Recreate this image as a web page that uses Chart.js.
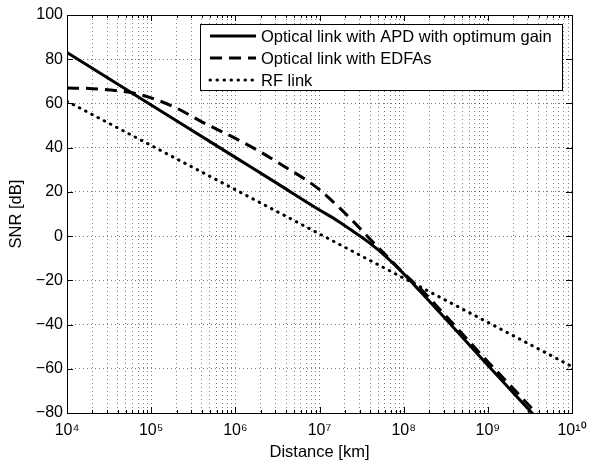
<!DOCTYPE html>
<html>
<head>
<meta charset="utf-8">
<title>SNR vs distance</title>
<script src="https://cdn.jsdelivr.net/npm/chart.js@4.4.0/dist/chart.umd.min.js"></script>
<style>
html, body { margin: 0; padding: 0; background: #fff; }
canvas { display: block; }
</style>
</head>
<body>
<canvas id="chart1" width="589" height="464"></canvas>
<script>
// values (distance in km, SNR in dB)
var seriesNames = ['Optical link with APD with optimum gain', 'Optical link with EDFAs', 'RF link'];

var apdDist = [1e4, 1e5, 1e6, 3e6, 1e7, 1.6e7, 2.5e7, 4e7, 6.3e7, 1e8, 1.6e8, 3.2e8, 1e9, 3.2e9, 4e9];
var apdSnr = [83, 59.3, 35.6, 24.3, 11.8, 7.2, 2.2, -3.3, -9.6, -17, -25.3, -37.7, -58.4, -79.2, -83.3];

var edfaDist = [1e4, 2e4, 4e4, 6.3e4, 1e5, 2e5, 4e5, 1e6, 2e6, 4e6, 7e6, 1e7, 1.6e7, 2.5e7, 4e7, 6.3e7, 1e8, 1.6e8, 3.2e8, 1e9, 3.2e9, 4e9];
var edfaSnr = [67, 66.7, 65.7, 64.6, 62.5, 57.9, 51.7, 44.2, 38, 31, 25.3, 21, 14, 6.8, -1.4, -9, -16.8, -24, -36.3, -56.8, -77.2, -81.3];

var rfDist = [1e4, 1e5, 1e6, 1e7, 1e8, 1e9, 1e10];
var rfSnr = [61, 41, 21, 1, -19, -39, -59];

var decadeTicks = [1e4, 1e5, 1e6, 1e7, 1e8, 1e9, 1e10];
var decadeLabels = ['10\u2074', '10\u2075', '10\u2076', '10\u2077', '10\u2078', '10\u2079', '10\u00b9\u2070'];
var snrTicks = [-80, -60, -40, -20, 0, 20, 40, 60, 80, 100];

var fontFamily = '"Liberation Sans", Arial, Helvetica, sans-serif';

function points(xs, ys) {
    return xs.map(function(x, i) {
        return { x: x, y: ys[i] };
    });
}

// dotted grid on every 1..9 x 10^k
function logGridTicks(scale) {
    var list = [];
    decadeTicks.forEach(function(d, i) {
        list.push({ value: d, major: true });
        if (i < decadeTicks.length - 1) {
            for (var m = 2; m < 10; m++) list.push({ value: d * m, major: false });
        }
    });
    scale.ticks = list;
}

var framePlugin = {
    id: 'frame',
    afterDraw: function(chart) {
        var ctx = chart.ctx, a = chart.chartArea;
        var xs = chart.scales.x, ys = chart.scales.y;
        ctx.save();
        ctx.strokeStyle = '#000';
        ctx.lineWidth = 1;
        ctx.setLineDash([]);
        ctx.beginPath();
        xs.ticks.forEach(function(t) {
            var px = Math.round(xs.getPixelForValue(t.value)) + 0.5;
            var len = t.major ? 6 : 3;
            ctx.moveTo(px, a.bottom); ctx.lineTo(px, a.bottom - len);
            ctx.moveTo(px, a.top); ctx.lineTo(px, a.top + len);
        });
        snrTicks.forEach(function(v) {
            var py = Math.round(ys.getPixelForValue(v)) + 0.5;
            ctx.moveTo(a.left, py); ctx.lineTo(a.left + 6, py);
            ctx.moveTo(a.right, py); ctx.lineTo(a.right - 6, py);
        });
        ctx.stroke();
        ctx.strokeRect(Math.round(a.left) + 0.5, Math.round(a.top) + 0.5, Math.round(a.right - a.left), Math.round(a.bottom - a.top));
        ctx.restore();
    }
};

var legendPlugin = {
    id: 'boxLegend',
    afterDraw: function(chart) {
        var ctx = chart.ctx, a = chart.chartArea;
        ctx.save();
        ctx.font = '16.5px ' + fontFamily;
        var textW = 0;
        chart.data.datasets.forEach(function(ds) {
            textW = Math.max(textW, ctx.measureText(ds.label).width);
        });
        var sample = 46, rowH = 22;
        var w = 61 + textW + 10, h = 66;
        var right = Math.round(a.right) - 10, top = Math.round(a.top) + 9;
        var left = Math.round(right - w);
        ctx.fillStyle = '#fff';
        ctx.fillRect(left, top, right - left, h);
        ctx.strokeStyle = '#000';
        ctx.lineWidth = 1;
        ctx.strokeRect(left + 0.5, top + 0.5, right - left, h);
        chart.data.datasets.forEach(function(ds, i) {
            var y = top + 12 + i * rowH;
            ctx.beginPath();
            ctx.setLineDash(ds.borderDash || []);
            ctx.lineWidth = ds.borderWidth;
            ctx.lineCap = ds.borderCapStyle || 'butt';
            ctx.strokeStyle = '#000';
            ctx.moveTo(left + 10, y);
            ctx.lineTo(left + 10 + sample, y);
            ctx.stroke();
            ctx.setLineDash([]);
            ctx.fillStyle = '#000';
            ctx.textBaseline = 'middle';
            ctx.fillText(ds.label, left + 61, y + 1);
        });
        ctx.restore();
    }
};

var ctx = document.getElementById('chart1');
var myChart = new Chart(ctx, {
    type: 'line',
    data: {
        datasets: [{
            label: seriesNames[0],
            data: points(apdDist, apdSnr),
            borderColor: '#000',
            borderWidth: 3,
            cubicInterpolationMode: 'monotone',
            pointRadius: 0,
            clip: 0
        }, {
            label: seriesNames[1],
            data: points(edfaDist, edfaSnr),
            borderColor: '#000',
            borderWidth: 3,
            borderDash: [12, 7],
            cubicInterpolationMode: 'monotone',
            pointRadius: 0,
            clip: 0
        }, {
            label: seriesNames[2],
            data: points(rfDist, rfSnr),
            borderColor: '#000',
            borderWidth: 3,
            borderDash: [0.5, 6.5],
            borderCapStyle: 'round',
            pointRadius: 0,
            clip: 0
        }]
    },
    options: {
        responsive: false,
        animation: false,
        layout: {
            padding: { top: 15, right: 17, left: 0, bottom: 0 }
        },
        plugins: {
            legend: { display: false },
            tooltip: { enabled: false }
        },
        scales: {
            x: {
                type: 'logarithmic',
                min: 1e4,
                max: 1e10,
                afterBuildTicks: logGridTicks,
                afterFit: function(scale) {
                    scale.height = 51;
                    scale.paddingLeft = 0;
                    scale.paddingRight = 0;
                },
                grid: {
                    color: 'rgba(0,0,0,0.5)',
                    lineWidth: 1,
                    drawTicks: false
                },
                border: { display: false, dash: [1, 3] },
                ticks: {
                    autoSkip: false,
                    maxRotation: 0,
                    padding: 8,
                    color: '#000',
                    font: { family: fontFamily, size: 16 },
                    callback: function(value) {
                        var i = decadeTicks.indexOf(value);
                        return i >= 0 ? decadeLabels[i] : '';
                    }
                },
                title: {
                    display: true,
                    text: 'Distance [km]',
                    color: '#000',
                    font: { family: fontFamily, size: 16.5 },
                    padding: { top: 0, bottom: 2 }
                }
            },
            y: {
                min: -80,
                max: 100,
                afterBuildTicks: function(scale) {
                    scale.ticks = snrTicks.map(function(v) { return { value: v }; });
                },
                afterFit: function(scale) {
                    scale.width = 67;
                    scale.paddingTop = 0;
                    scale.paddingBottom = 0;
                },
                grid: {
                    color: 'rgba(0,0,0,0.5)',
                    lineWidth: 1,
                    drawTicks: false
                },
                border: { display: false, dash: [1, 3] },
                ticks: {
                    padding: 4,
                    color: '#000',
                    font: { family: fontFamily, size: 16 },
                    callback: function(value) {
                        return String(value).replace('-', '\u2212');
                    }
                },
                title: {
                    display: true,
                    text: 'SNR [dB]',
                    color: '#000',
                    font: { family: fontFamily, size: 16.5 },
                    padding: { top: 7, bottom: 0 }
                }
            }
        }
    },
    plugins: [framePlugin, legendPlugin]
});
</script>
</body>
</html>
